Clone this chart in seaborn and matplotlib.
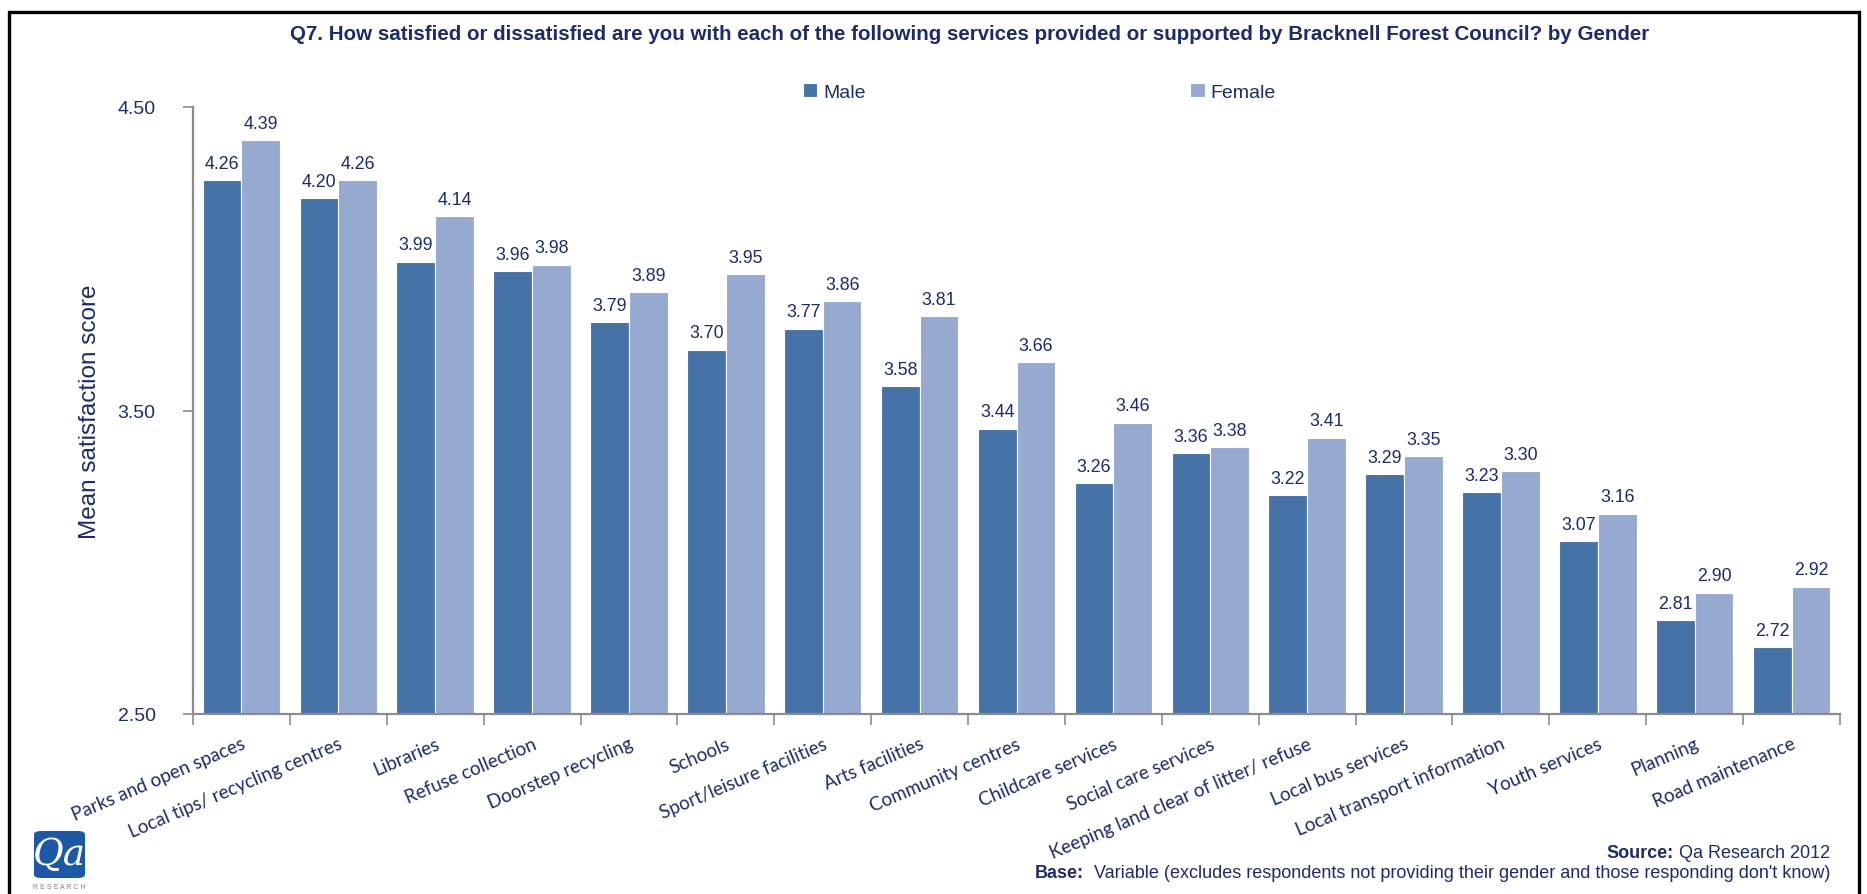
import matplotlib
matplotlib.use("Agg")
import matplotlib.pyplot as plt
from matplotlib import font_manager
from matplotlib.patches import Rectangle, FancyBboxPatch
import seaborn as sns
import pandas as pd

# --- data -------------------------------------------------------------
services = [
    "Parks and open spaces", "Local tips/ recycling centres", "Libraries",
    "Refuse collection", "Doorstep recycling", "Schools",
    "Sport/leisure facilities", "Arts facilities", "Community centres",
    "Childcare services", "Social care services",
    "Keeping land clear of litter/ refuse", "Local bus services",
    "Local transport information", "Youth services", "Planning",
    "Road maintenance",
]
male = [4.26, 4.20, 3.99, 3.96, 3.79, 3.70, 3.77, 3.58, 3.44, 3.26, 3.36,
        3.22, 3.29, 3.23, 3.07, 2.81, 2.72]
female = [4.39, 4.26, 4.14, 3.98, 3.89, 3.95, 3.86, 3.81, 3.66, 3.46, 3.38,
          3.41, 3.35, 3.30, 3.16, 2.90, 2.92]
genders = ["Male", "Female"]
y_ticks = [2.50, 3.50, 4.50]

title = ("Q7. How satisfied or dissatisfied are you with each of the following "
         "services provided or supported by Bracknell Forest Council? by Gender")

df = pd.DataFrame({
    "service": services * 2,
    "gender": ["Male"] * len(services) + ["Female"] * len(services),
    "score": male + female,
})

# --- style ------------------------------------------------------------
sns.set_theme(style="white")
installed = {f.name for f in font_manager.fontManager.ttflist}
narrow = "Liberation Sans Narrow" if "Liberation Sans Narrow" in installed else "Liberation Sans"
plt.rcParams["font.family"] = ["Liberation Sans", "DejaVu Sans"]

NAVY = "#1B2B6B"
GREY = "#8C8C8C"
palette = {"Male": "#4573A7", "Female": "#95A9D1"}

W, H = 1867, 895
fig = plt.figure(figsize=(W / 100, H / 100), dpi=100)
ax = fig.add_axes([193 / W, 1 - 715 / H, (1840 - 193) / W, (715 - 108) / H])

sns.barplot(data=df, x="service", y="score", hue="gender", hue_order=genders,
            palette=palette, width=0.8, edgecolor="white", linewidth=0.8,
            saturation=1, ax=ax, legend=True)

ax.set_ylim(2.5, 4.5)
ax.set_xlim(-0.5, len(services) - 0.5)
ax.set_yticks(y_ticks)
ax.set_yticklabels([f"{v:.2f}" for v in y_ticks], fontsize=14,
                   family=narrow, color=NAVY)
ax.set_ylabel("Mean satisfaction score", fontsize=17.5, family=narrow,
              color=NAVY, labelpad=12)
ax.set_xlabel("")

# category labels at the centres, tick marks on the group boundaries
ax.set_xticks(range(len(services)))
ax.set_xticklabels(services, rotation=23, ha="right", va="top",
                   rotation_mode="anchor", fontsize=13.5,
                   family=["Lato", "DejaVu Sans"], color=NAVY)
ax.tick_params(axis="x", which="major", length=0, pad=15)
ax.set_xticks([i - 0.5 for i in range(len(services) + 1)], minor=True)
ax.tick_params(axis="x", which="minor", length=8, width=1.2, color=GREY,
               direction="out", bottom=True)
ax.tick_params(axis="y", length=7, width=1.2, color=GREY, direction="out",
               left=True, pad=20)

for side in ("top", "right"):
    ax.spines[side].set_visible(False)
for side in ("left", "bottom"):
    ax.spines[side].set_color(GREY)
    ax.spines[side].set_linewidth(1.6)

for cont in ax.containers:
    ax.bar_label(cont, fmt="%.2f", padding=6, fontsize=12.8, color=NAVY)

# legend across the top
handles, labels = ax.get_legend_handles_labels()
ax.legend(handles, labels, ncol=2, loc="center left",
          bbox_to_anchor=(785 / W, 1 - 93 / H), bbox_transform=fig.transFigure,
          frameon=False, handlelength=0.75, handleheight=0.75,
          handletextpad=0.3, columnspacing=16.7,
          prop={"family": narrow, "size": 14}, labelcolor=NAVY)

# title
fig.text(970 / W, 1 - 34 / H, title, ha="center", va="center",
         fontsize=14.8, fontweight="bold", family=narrow, color=NAVY)

# frame around the chart
fig.patches.append(Rectangle((9 / W, -0.05), (1859 - 9) / W, (1 - 13 / H) + 0.05,
                             transform=fig.transFigure, fill=False,
                             edgecolor="black", linewidth=2.4))

# source / base notes
renderer = fig.canvas.get_renderer()


def note(x_right, y, bold, rest):
    t = fig.text(x_right / W, 1 - y / H, rest, ha="right", va="center",
                 fontsize=13, family=narrow, color=NAVY)
    bb = t.get_window_extent(renderer)
    fig.text(bb.x0 / W, 1 - y / H, bold, ha="right", va="center",
             fontsize=13, family=narrow, fontweight="bold", color=NAVY)


note(1830, 854, "Source:", " Qa Research 2012")
note(1830, 874, "Base:",
     "  Variable (excludes respondents not providing their gender and those responding don't know)")

# company mark bottom-left
fig.patches.append(FancyBboxPatch((34 / W, 1 - 879 / H), 51 / W, 47 / H,
                                  boxstyle="round,pad=0,rounding_size=0.004",
                                  transform=fig.transFigure,
                                  facecolor="#1C58A6", edgecolor="none"))
fig.text(59 / W, 1 - 855 / H, "Qa", ha="center", va="center", fontsize=27,
         family="DejaVu Serif", style="italic", color="white")
fig.text(59 / W, 1 - 888 / H, "R E S E A R C H", ha="center", va="center",
         fontsize=5, color="#7F7F7F")

fig.savefig("out.png", dpi=100)
